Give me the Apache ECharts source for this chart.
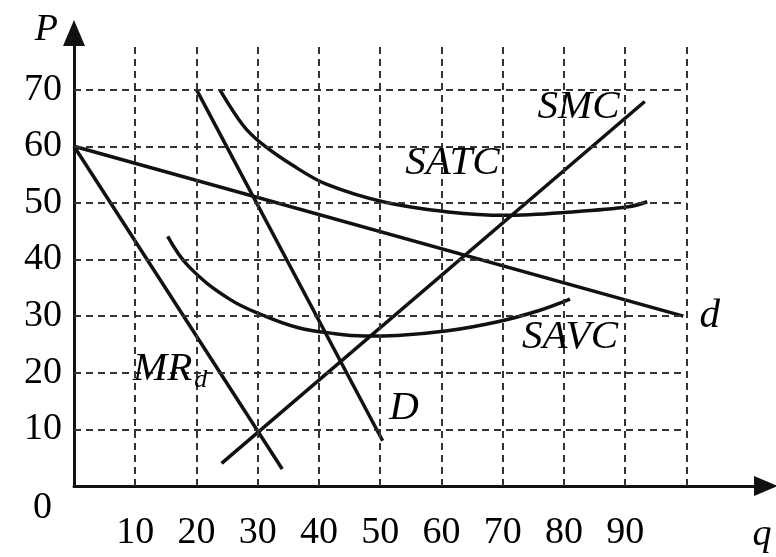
<!DOCTYPE html>
<html>
<head>
<meta charset="utf-8">
<script src="https://cdn.jsdelivr.net/npm/echarts@6/dist/echarts.min.js"></script>
<style>
html,body{margin:0;padding:0;background:#fff;}
#chart{width:776px;height:557px;}
</style>
</head>
<body>
<div id="chart"></div>
<script>
// ---- data ----
const qTickLabels = [10, 20, 30, 40, 50, 60, 70, 80, 90];
const pTickLabels = [0, 10, 20, 30, 40, 50, 60, 70];
const gridQ = [10, 20, 30, 40, 50, 60, 70, 80, 90, 100];
const gridP = [10, 20, 30, 40, 50, 60, 70];

const demandD = [[20, 70], [50.4, 8]];
const demandFirm = [[0, 60], [99.5, 30]];
const mrFirm = [[0, 60], [34, 3]];
const smc = [[24.1, 4], [93.2, 67.9]];
const satc = [[23.8, 70], [27.6, 63.7], [30.5, 60.6], [35.9, 56.5], [41.2, 53.3], [50.8, 50.1], [61.1, 48.4], [70.4, 47.8], [81.4, 48.4], [90.5, 49.3], [93.6, 50.2]];
const savc = [[15.3, 44.1], [18.8, 38.7], [25.4, 33.0], [31, 30.1], [36.5, 28.0], [41.9, 27.0], [47.4, 26.5], [52.8, 26.6], [61, 27.4], [69.2, 29.0], [75.7, 30.9], [81, 33.0]];

const X_MAX = 113, Y_MAX = 80, GRID_TOP = 78;
const INK = '#000';
const SERIF = '"Liberation Serif", "DejaVu Serif", serif';

const chart = echarts.init(document.getElementById('chart'));

const gridLines = [];
gridQ.forEach(q => gridLines.push([{ coord: [q, 0] }, { coord: [q, GRID_TOP] }]));
gridP.forEach(p => gridLines.push([{ coord: [0, p] }, { coord: [100, p] }]));

const labelStyle = { fontFamily: SERIF, fontStyle: 'italic', fontSize: 41, color: INK };

function curve(name, data, smooth, label, coord) {
  return {
    name, type: 'line', data, smooth, symbol: 'none', z: 3,
    lineStyle: { color: '#111', width: 3.5 },
    markPoint: {
      symbol: 'circle', symbolSize: 0, silent: true,
      label: Object.assign({ show: true, position: 'inside', formatter: label }, labelStyle),
      data: [{ coord }]
    }
  };
}

const option = {
  backgroundColor: '#fff',
  animation: false,
  grid: { left: 74, right: 10, top: 33, bottom: 71, containLabel: false, outerBoundsMode: 'none' },
  xAxis: {
    type: 'value', min: 0, max: X_MAX, interval: 10,
    name: 'q', nameLocation: 'end', nameGap: -4,
    nameTextStyle: { fontFamily: SERIF, fontStyle: 'italic', fontSize: 38, color: INK, align: 'center', verticalAlign: 'top', padding: [30, 0, 0, 0] },
    axisLine: { show: true, lineStyle: { color: '#111', width: 3 }, symbol: ['none', 'triangle'], symbolSize: [20, 24] },
    axisTick: { show: false },
    splitLine: { show: false },
    axisLabel: {
      margin: 28, fontFamily: SERIF, fontSize: 38, color: INK,
      formatter: v => qTickLabels.indexOf(v) >= 0 ? String(v) : ''
    }
  },
  yAxis: {
    type: 'value', min: 0, max: Y_MAX, interval: 10,
    name: 'P', nameLocation: 'end', nameGap: 3,
    nameTextStyle: { fontFamily: SERIF, fontStyle: 'italic', fontSize: 38, color: INK, align: 'right', verticalAlign: 'middle', padding: [0, 16, 0, 0] },
    axisLine: { show: true, lineStyle: { color: '#111', width: 3 }, symbol: ['none', 'triangle'], symbolSize: [22, 26] },
    axisTick: { show: false },
    splitLine: { show: false },
    axisLabel: {
      margin: 12, fontFamily: SERIF, fontSize: 38, color: INK,
      formatter: v => v === 0 ? '{z|0}' : (pTickLabels.indexOf(v) >= 0 ? String(v) : ''),
      rich: { z: { fontFamily: SERIF, fontSize: 38, color: INK, padding: [44, 10, 0, 0] } }
    }
  },
  series: [
    {
      name: 'grid', type: 'line', data: [], z: 1, silent: true,
      markLine: {
        silent: true, symbol: ['none', 'none'], label: { show: false },
        lineStyle: { color: '#333', width: 2, type: [7, 5] },
        data: gridLines
      }
    },
    curve('d', demandFirm, false, 'd', [103.8, 29.9]),
    curve('MRd', mrFirm, false, '{m|MR}{s|d}', [15.7, 20.7]),
    curve('D', demandD, false, 'D', [53.9, 13.8]),
    curve('SMC', smc, false, 'SMC', [82.4, 66.9]),
    curve('SATC', satc, 0.35, 'SATC', [61.8, 57.0]),
    curve('SAVC', savc, 0.4, 'SAVC', [81, 26.2])
  ]
};

// subscript styling for MR_d
option.series[2].markPoint.label.rich = {
  m: { fontFamily: SERIF, fontStyle: 'italic', fontSize: 41, color: INK },
  s: { fontFamily: SERIF, fontStyle: 'italic', fontSize: 26, color: INK, padding: [22, 0, 0, 2] }
};

chart.setOption(option);
</script>
</body>
</html>
